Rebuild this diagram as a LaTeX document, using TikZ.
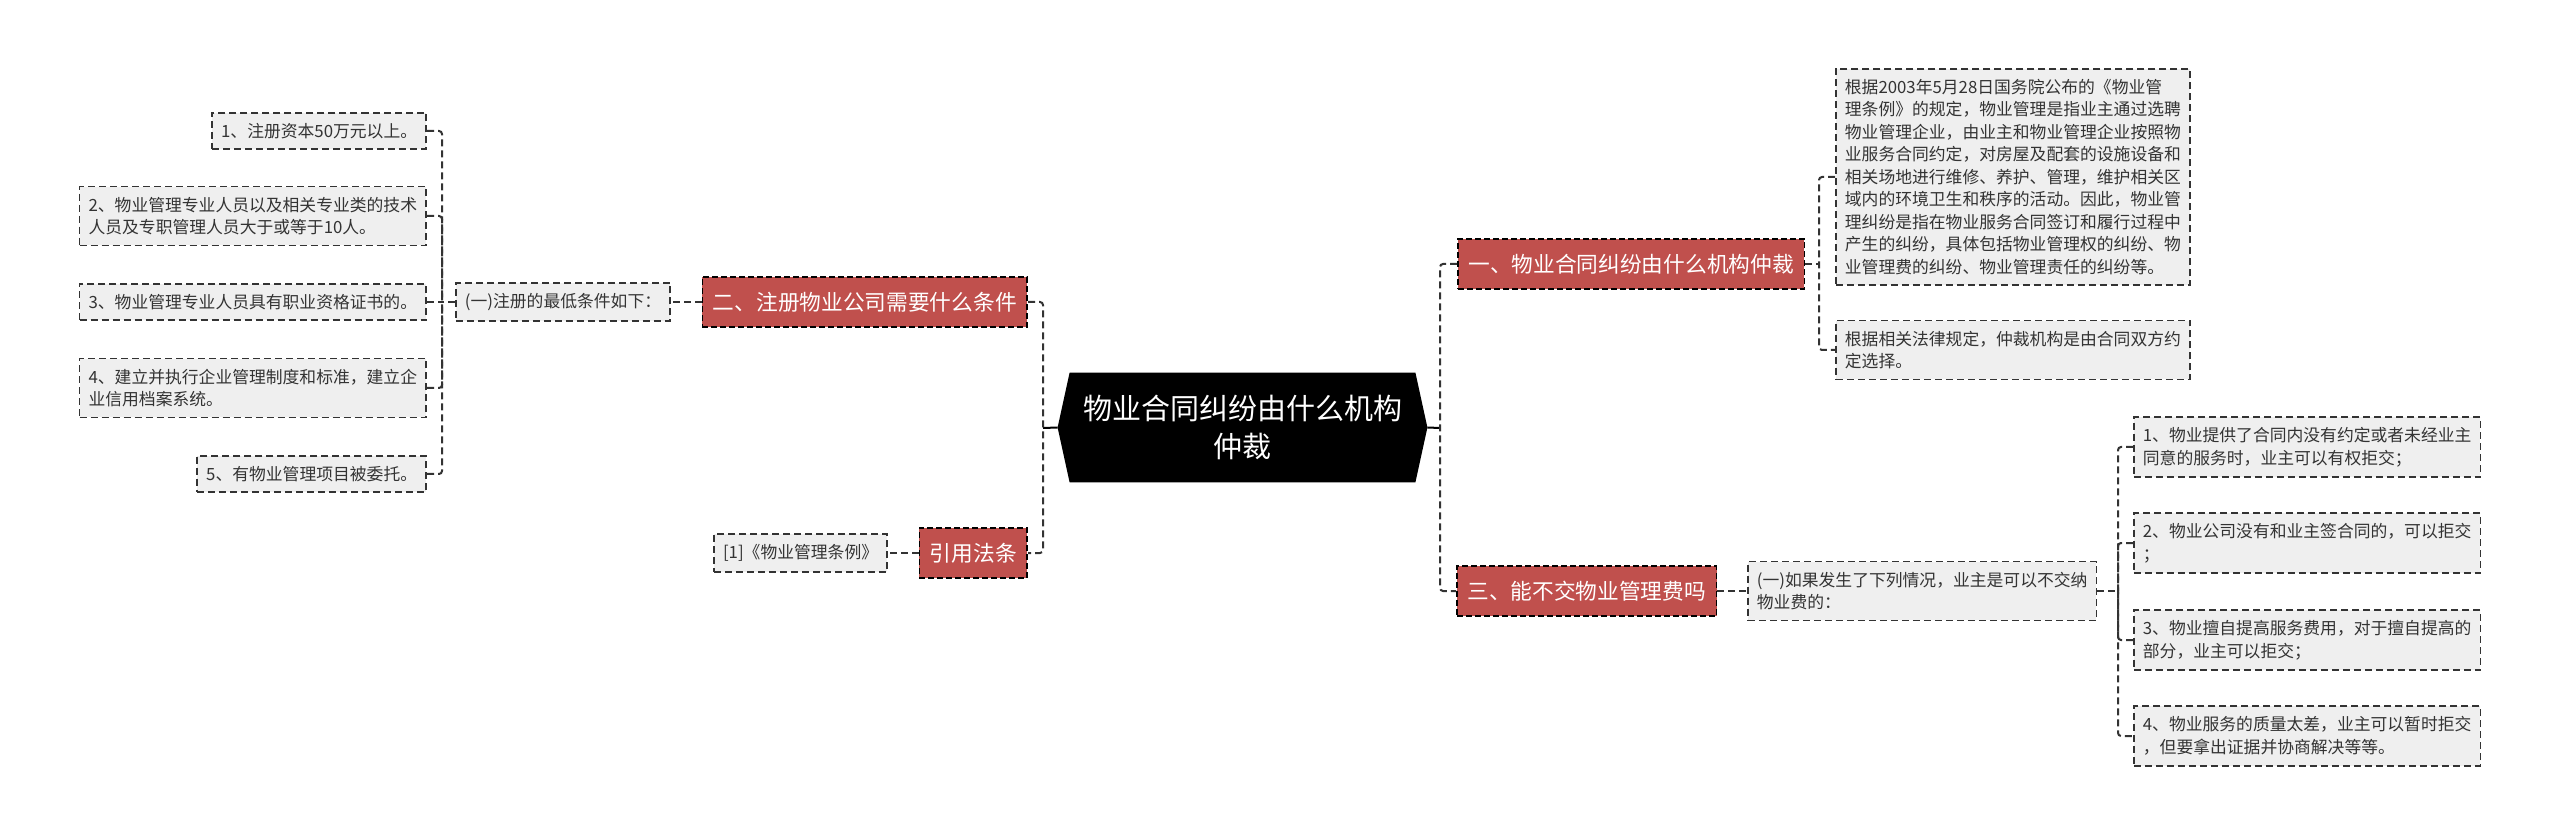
\documentclass[tikz,border=0pt]{standalone}
\usepackage{fontspec}
\setmainfont{Noto Sans CJK SC}
\usetikzlibrary{backgrounds}
\definecolor{redn}{HTML}{C0504D}
\definecolor{leaff}{HTML}{EFEFEF}
\definecolor{linec}{HTML}{333333}
\definecolor{textc}{HTML}{333333}
\begin{document}
\begin{tikzpicture}[x=0.5pt,y=-0.5pt,
  leaf/.style={draw=linec, fill=leaff, dash pattern=on 3.5pt off 2pt, line width=0.9pt,
    text=textc, font=\fontsize{8.4pt}{11.25pt}\selectfont, align=left,
    inner xsep=4.5pt, inner ysep=5.2pt},
  topic/.style={draw=black, fill=redn, dash pattern=on 3pt off 1.5pt, line width=0.8pt,
    text=white, font=\fontsize{10.85pt}{13pt}\selectfont, inner xsep=5.25pt,
    inner ysep=0pt, minimum height=25pt},
  conn/.style={draw=linec, line width=1pt, dash pattern=on 3.5pt off 2pt, rounded corners=1.5pt},
  solidconn/.style={draw=black, line width=1pt}]
\useasboundingbox (0,0) rectangle (2560,839);

% central topic
\node[text=white, align=center, font=\fontsize{14.5pt}{19pt}\selectfont,
  minimum width=172.5pt, minimum height=54.5pt, inner sep=0pt] (c) at (1242.5,427.5)
  {物业合同纠纷由什么机构\\仲裁};
\coordinate (cL) at ([xshift=-6pt]c.west);
\coordinate (cR) at ([xshift=6pt]c.east);

% main topics
\node[topic, anchor=west] (n1) at (1457,264) {一、物业合同纠纷由什么机构仲裁};
\node[topic, anchor=west] (n3) at (1456,591) {三、能不交物业管理费吗};
\node[topic, anchor=east] (n2) at (1028,302) {二、注册物业公司需要什么条件};
\node[topic, anchor=east] (ref) at (1028,553) {引用法条};

% right top leaves
\node[leaf, anchor=west] (r11) at (1835,177) {根据2003年5月28日国务院公布的《物业管\\理条例》的规定，物业管理是指业主通过选聘\\物业管理企业，由业主和物业管理企业按照物\\业服务合同约定，对房屋及配套的设施设备和\\相关场地进行维修、养护、管理，维护相关区\\域内的环境卫生和秩序的活动。因此，物业管\\理纠纷是指在物业服务合同签订和履行过程中\\产生的纠纷，具体包括物业管理权的纠纷、物\\业管理费的纠纷、物业管理责任的纠纷等。};
\node[leaf, anchor=west] (r12) at (1835,350) {根据相关法律规定，仲裁机构是由合同双方约\\定选择。};

% right bottom leaves
\node[leaf, anchor=west] (r31) at (1747,591) {(一)如果发生了下列情况，业主是可以不交纳\\物业费的：};
\node[leaf, anchor=west] (i1) at (2133,447) {1、物业提供了合同内没有约定或者未经业主\\同意的服务时，业主可以有权拒交；};
\node[leaf, anchor=west] (i2) at (2133,543) {2、物业公司没有和业主签合同的，可以拒交\\；};
\node[leaf, anchor=west] (i3) at (2133,640) {3、物业擅自提高服务费用，对于擅自提高的\\部分，业主可以拒交；};
\node[leaf, anchor=west] (i4) at (2133,736) {4、物业服务的质量太差，业主可以暂时拒交\\，但要拿出证据并协商解决等等。};

% left leaves
\node[leaf, anchor=east] (l21) at (671,302) {(一)注册的最低条件如下：};
\node[leaf, anchor=east] (a1) at (427,131) {1、注册资本50万元以上。};
\node[leaf, anchor=east] (a2) at (427,216) {2、物业管理专业人员以及相关专业类的技术\\人员及专职管理人员大于或等于10人。};
\node[leaf, anchor=east] (a3) at (427,302) {3、物业管理专业人员具有职业资格证书的。};
\node[leaf, anchor=east] (a4) at (427,388) {4、建立并执行企业管理制度和标准，建立企\\业信用档案系统。};
\node[leaf, anchor=east] (a5) at (427,474) {5、有物业管理项目被委托。};
\node[leaf, anchor=east] (refl) at (888,553) {[1]《物业管理条例》};

% spine coordinates
\coordinate (spL) at (1043,428);
\coordinate (spR) at (1440,428);
\coordinate (sp1) at (1819,264);
\coordinate (sp3) at (2118,591);
\coordinate (sp2) at (442,302);

% background and central hexagon
\begin{pgfonlayer}{background}
\fill[white] (0,0) rectangle (2560,839);
\fill[black] (c.north west) -- (c.north east) -- (cR) -- (c.south east)
  -- (c.south west) -- (cL) -- cycle;
\end{pgfonlayer}

% connectors
\draw[solidconn] (cL) -- (spL);
\draw[solidconn] (cR) -- (spR);
\draw[conn] (n2.east) -| (spL) |- (ref.east);
\draw[conn] (n1.west) -| (spR) |- (n3.west);

\draw[conn] (n1.east) -- (sp1);
\draw[conn] (r11.west) -| (sp1) |- (r12.west);

\draw[conn] (n3.east) -- (r31.west);
\draw[conn] (r31.east) -- (sp3);
\draw[conn] (i1.west) -| (sp3) |- (i4.west);
\draw[conn] (i2.west) -| (sp3);
\draw[conn] (i3.west) -| (sp3);

\draw[conn] (n2.west) -- (l21.east);
\draw[conn] (l21.west) -- (sp2);
\draw[conn] (a1.east) -| (sp2) |- (a5.east);
\draw[conn] (a2.east) -| (sp2);
\draw[conn] (a4.east) -| (sp2);
\draw[conn] (a3.east) -- (sp2);

\draw[conn] (ref.west) -- (refl.east);
\end{tikzpicture}
\end{document}
